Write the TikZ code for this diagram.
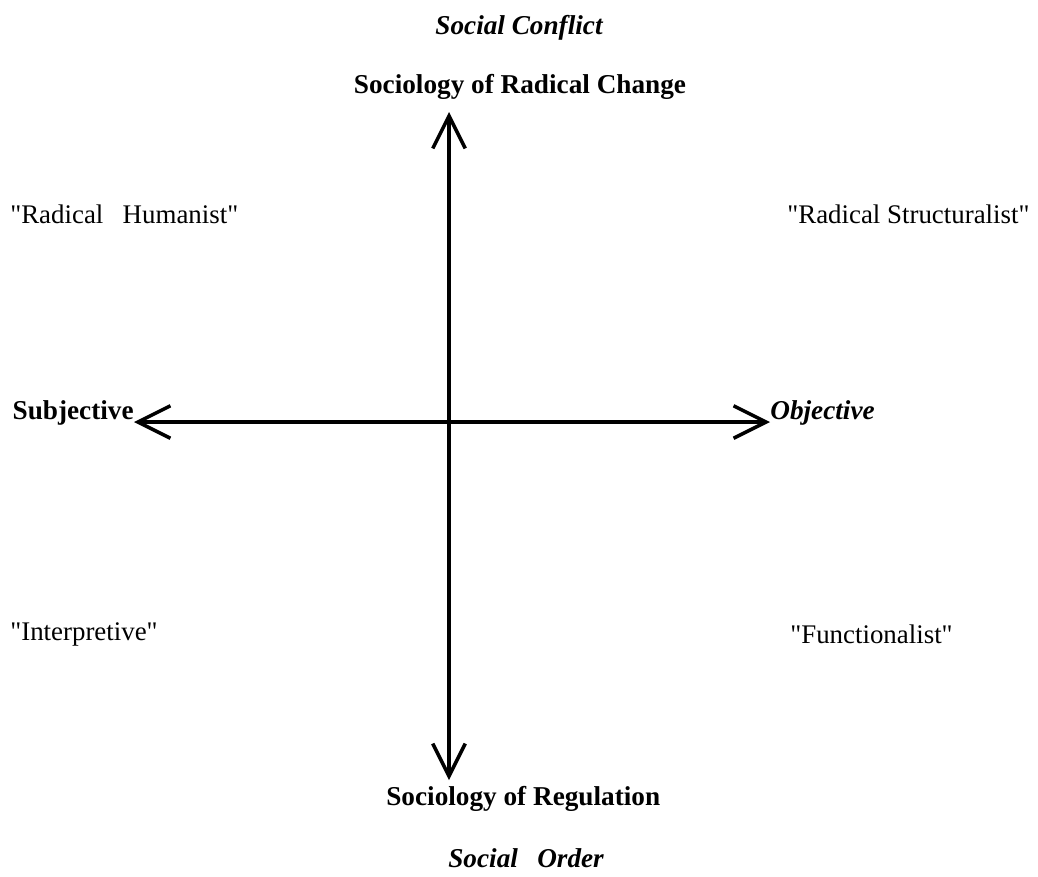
\documentclass[tikz,border=0pt]{standalone}
\usepackage{fontspec}
\setmainfont{Liberation Serif}[Ligatures=TeXOff]
\usetikzlibrary{arrows.meta}
\newcommand{\qt}[1]{"#1"}
\tikzstyle{every node}=[inner sep=0pt,font=\fontsize{15.3}{17}\selectfont]
\tikzstyle{pole}=[font=\fontsize{15.5}{17}\selectfont\bfseries]
\tikzstyle{extreme}=[font=\fontsize{15.5}{17}\selectfont\bfseries\itshape]
\tikzstyle{paradigm}=[anchor=west]
\tikzstyle{axis}=[line width=2.2pt,{Straight Barb[length=6.5mm,width=6.5mm,line width=2pt]}-{Straight Barb[length=6.5mm,width=6.5mm,line width=2pt]}]

\begin{document}
\begin{tikzpicture}[x=0.02cm,y=-0.02cm]
  \useasboundingbox (0,0) rectangle (1038,876);
  \coordinate (top) at (449,112);
  \coordinate (bot) at (449,780);
  \coordinate (lft) at (134,422);
  \coordinate (rgt) at (770,422);
  \draw[axis] (bot) -- (top);
  \draw[axis] (lft) -- (rgt);
  \node[extreme] (conflict) at (519,28) {Social Conflict};
  \node[pole] (change) at (520,87) {Sociology of Radical Change};
  \node[pole,anchor=east] (subj) at (lft) [yshift=5pt] {Subjective};
  \node[extreme,anchor=west] (obj) at (rgt) [yshift=5pt] {Objective};
  \node[pole,anchor=west] (regul) at (386,799) {Sociology of Regulation};
  \node[extreme,anchor=west] (order) at (448,858) {Social\hspace{11pt}Order};
  \node[paradigm] (hum) at (10,214) {\qt{Radical\hspace{11pt}Humanist}};
  \node[paradigm] (struct) at (787,214) {\qt{Radical Structuralist}};
  \node[paradigm] (interp) at (10,634) {\qt{Interpretive}};
  \node[paradigm] (func) at (790,634) {\qt{Functionalist}};
\end{tikzpicture}
\end{document}
